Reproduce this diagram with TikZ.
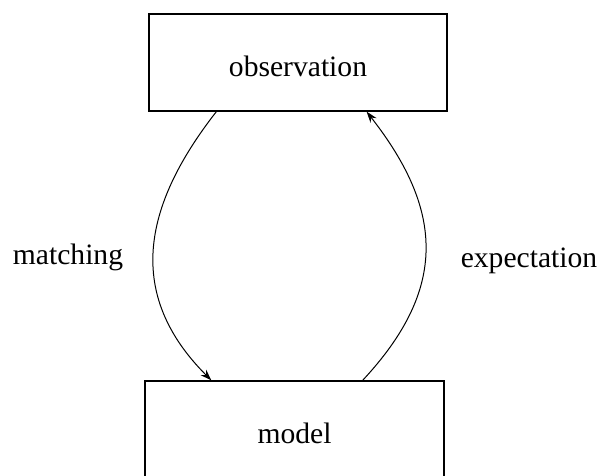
\documentclass[tikz,border=0pt]{standalone}
\usepackage{fontspec}
\setmainfont{Liberation Serif}
\usepackage{tikz}
\usetikzlibrary{arrows.meta}

\begin{document}
\begin{tikzpicture}[x=0.5pt, y=-0.5pt,
  font=\fontsize{14.8}{18}\selectfont,
  stagebox/.style={draw, line width=0.6pt, inner sep=0pt},
  loop/.style={line width=0.5pt, -{Stealth[length=5.6pt, width=3.8pt]}},
  looplabel/.style={inner sep=0pt}]
  \useasboundingbox (0,0) rectangle (600,476);
  \node[stagebox, minimum width=149pt, minimum height=48.5pt, text height=14pt] (obs) at (298,62.5) {observation};
  \node[stagebox, minimum width=149.5pt, minimum height=52pt] (model) at (294.5,433) {model};
  \node[looplabel] (match) at (68,257) {matching};
  \node[looplabel] (expect) at (529,261) {expectation};
  % the two arcs between the boxes
  \draw[loop] ([xshift=34pt]obs.south west) to[out=232, in=135, looseness=1.15] ([xshift=33.5pt]model.north west);
  \draw[loop] ([xshift=-41pt]model.north east) to[out=47, in=-52, looseness=1.19] ([xshift=-40.5pt]obs.south east);
\end{tikzpicture}
\end{document}
